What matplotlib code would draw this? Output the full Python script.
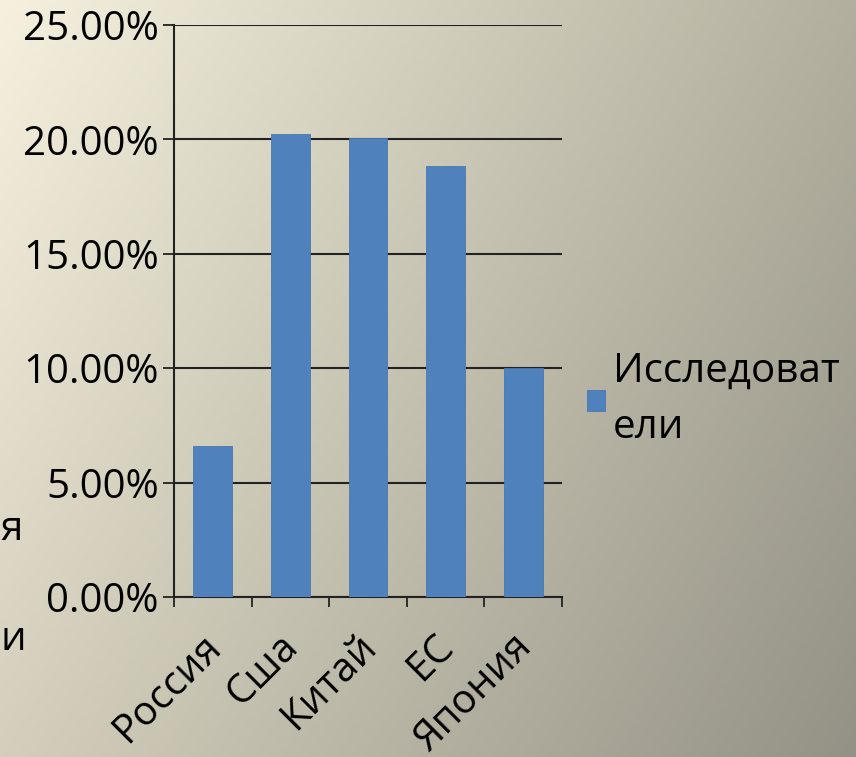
import numpy as np
import matplotlib.pyplot as plt
import matplotlib.transforms as mtransforms
from matplotlib.ticker import FuncFormatter, FixedLocator

countries = ['Россия', 'Сша', 'Китай', 'ЕС', 'Япония']
values = [6.6, 20.25, 20.05, 18.85, 10.0]
series_name = 'Исследоват\nели'

plt.rcParams['font.family'] = ['Open Sans', 'DejaVu Sans']
fs = 29

fig = plt.figure(figsize=(8.56, 7.57), dpi=100)

# background gradient (cream top-left to grey bottom-right)
bg = fig.add_axes([0, 0, 1, 1], zorder=-10)
tl = np.array([245, 241, 222]) / 255
tr = np.array([178, 175, 158]) / 255
bl = np.array([212, 207, 188]) / 255
br = np.array([148, 146, 134]) / 255
yy, xx = np.mgrid[0:1:200j, 0:1:200j]
img = (tl * ((1 - xx) * (1 - yy))[..., None] + tr * (xx * (1 - yy))[..., None]
       + bl * ((1 - xx) * yy)[..., None] + br * (xx * yy)[..., None])
bg.imshow(img, aspect='auto', extent=[0, 1, 0, 1], origin='upper')
bg.axis('off')

ax = fig.add_axes([0.2033, 0.2114, 0.4533, 0.7556])
ax.set_facecolor('none')
x = np.arange(len(countries))
bars = ax.bar(x, values, width=0.5, color='#4f81bd', edgecolor='#4a78b0',
              linewidth=0.6, zorder=3, label=series_name)

ax.set_xlim(-0.5, len(countries) - 0.5)
ax.set_ylim(0, 25)
ax.set_yticks(np.arange(0, 26, 5))
ax.yaxis.set_major_formatter(FuncFormatter(lambda v, p: '%.2f%%' % v))
ax.grid(axis='y', color='#222222', linewidth=1.5, zorder=0)

ax.set_xticks(x)
ax.set_xticklabels(countries, rotation=45, ha='right', rotation_mode='anchor')
ax.xaxis.set_minor_locator(FixedLocator(np.arange(-0.5, len(countries), 1.0)))
ax.tick_params(axis='x', which='major', length=0, pad=12, labelsize=fs)
ax.tick_params(axis='x', which='minor', length=7, width=1.3, color='#222222')
ax.tick_params(axis='y', length=8, width=1.3, color='#222222', pad=3, labelsize=fs)
shift = mtransforms.ScaledTranslation(-0.12, -0.13, fig.dpi_scale_trans)
for lab in ax.get_xticklabels():
    lab.set_transform(lab.get_transform() + shift)

for s in ['top', 'right']:
    ax.spines[s].set_visible(False)
for s in ['left', 'bottom']:
    ax.spines[s].set_color('#222222')
    ax.spines[s].set_linewidth(1.5)

ax.legend(loc='center left', bbox_to_anchor=(1.022, 0.345), frameon=False,
          fontsize=fs, handlelength=0.45, handleheight=0.45, handletextpad=0.2,
          borderaxespad=0)
for t in ax.get_legend().get_texts():
    t.set_linespacing(1.5)

# cut-off text on the left edge
fig.text(0.0, 0.3, 'я', fontsize=fs, ha='left', va='center')
fig.text(0.0, 0.155, 'и', fontsize=fs, ha='left', va='center')

fig.savefig('out.png', dpi=100)
